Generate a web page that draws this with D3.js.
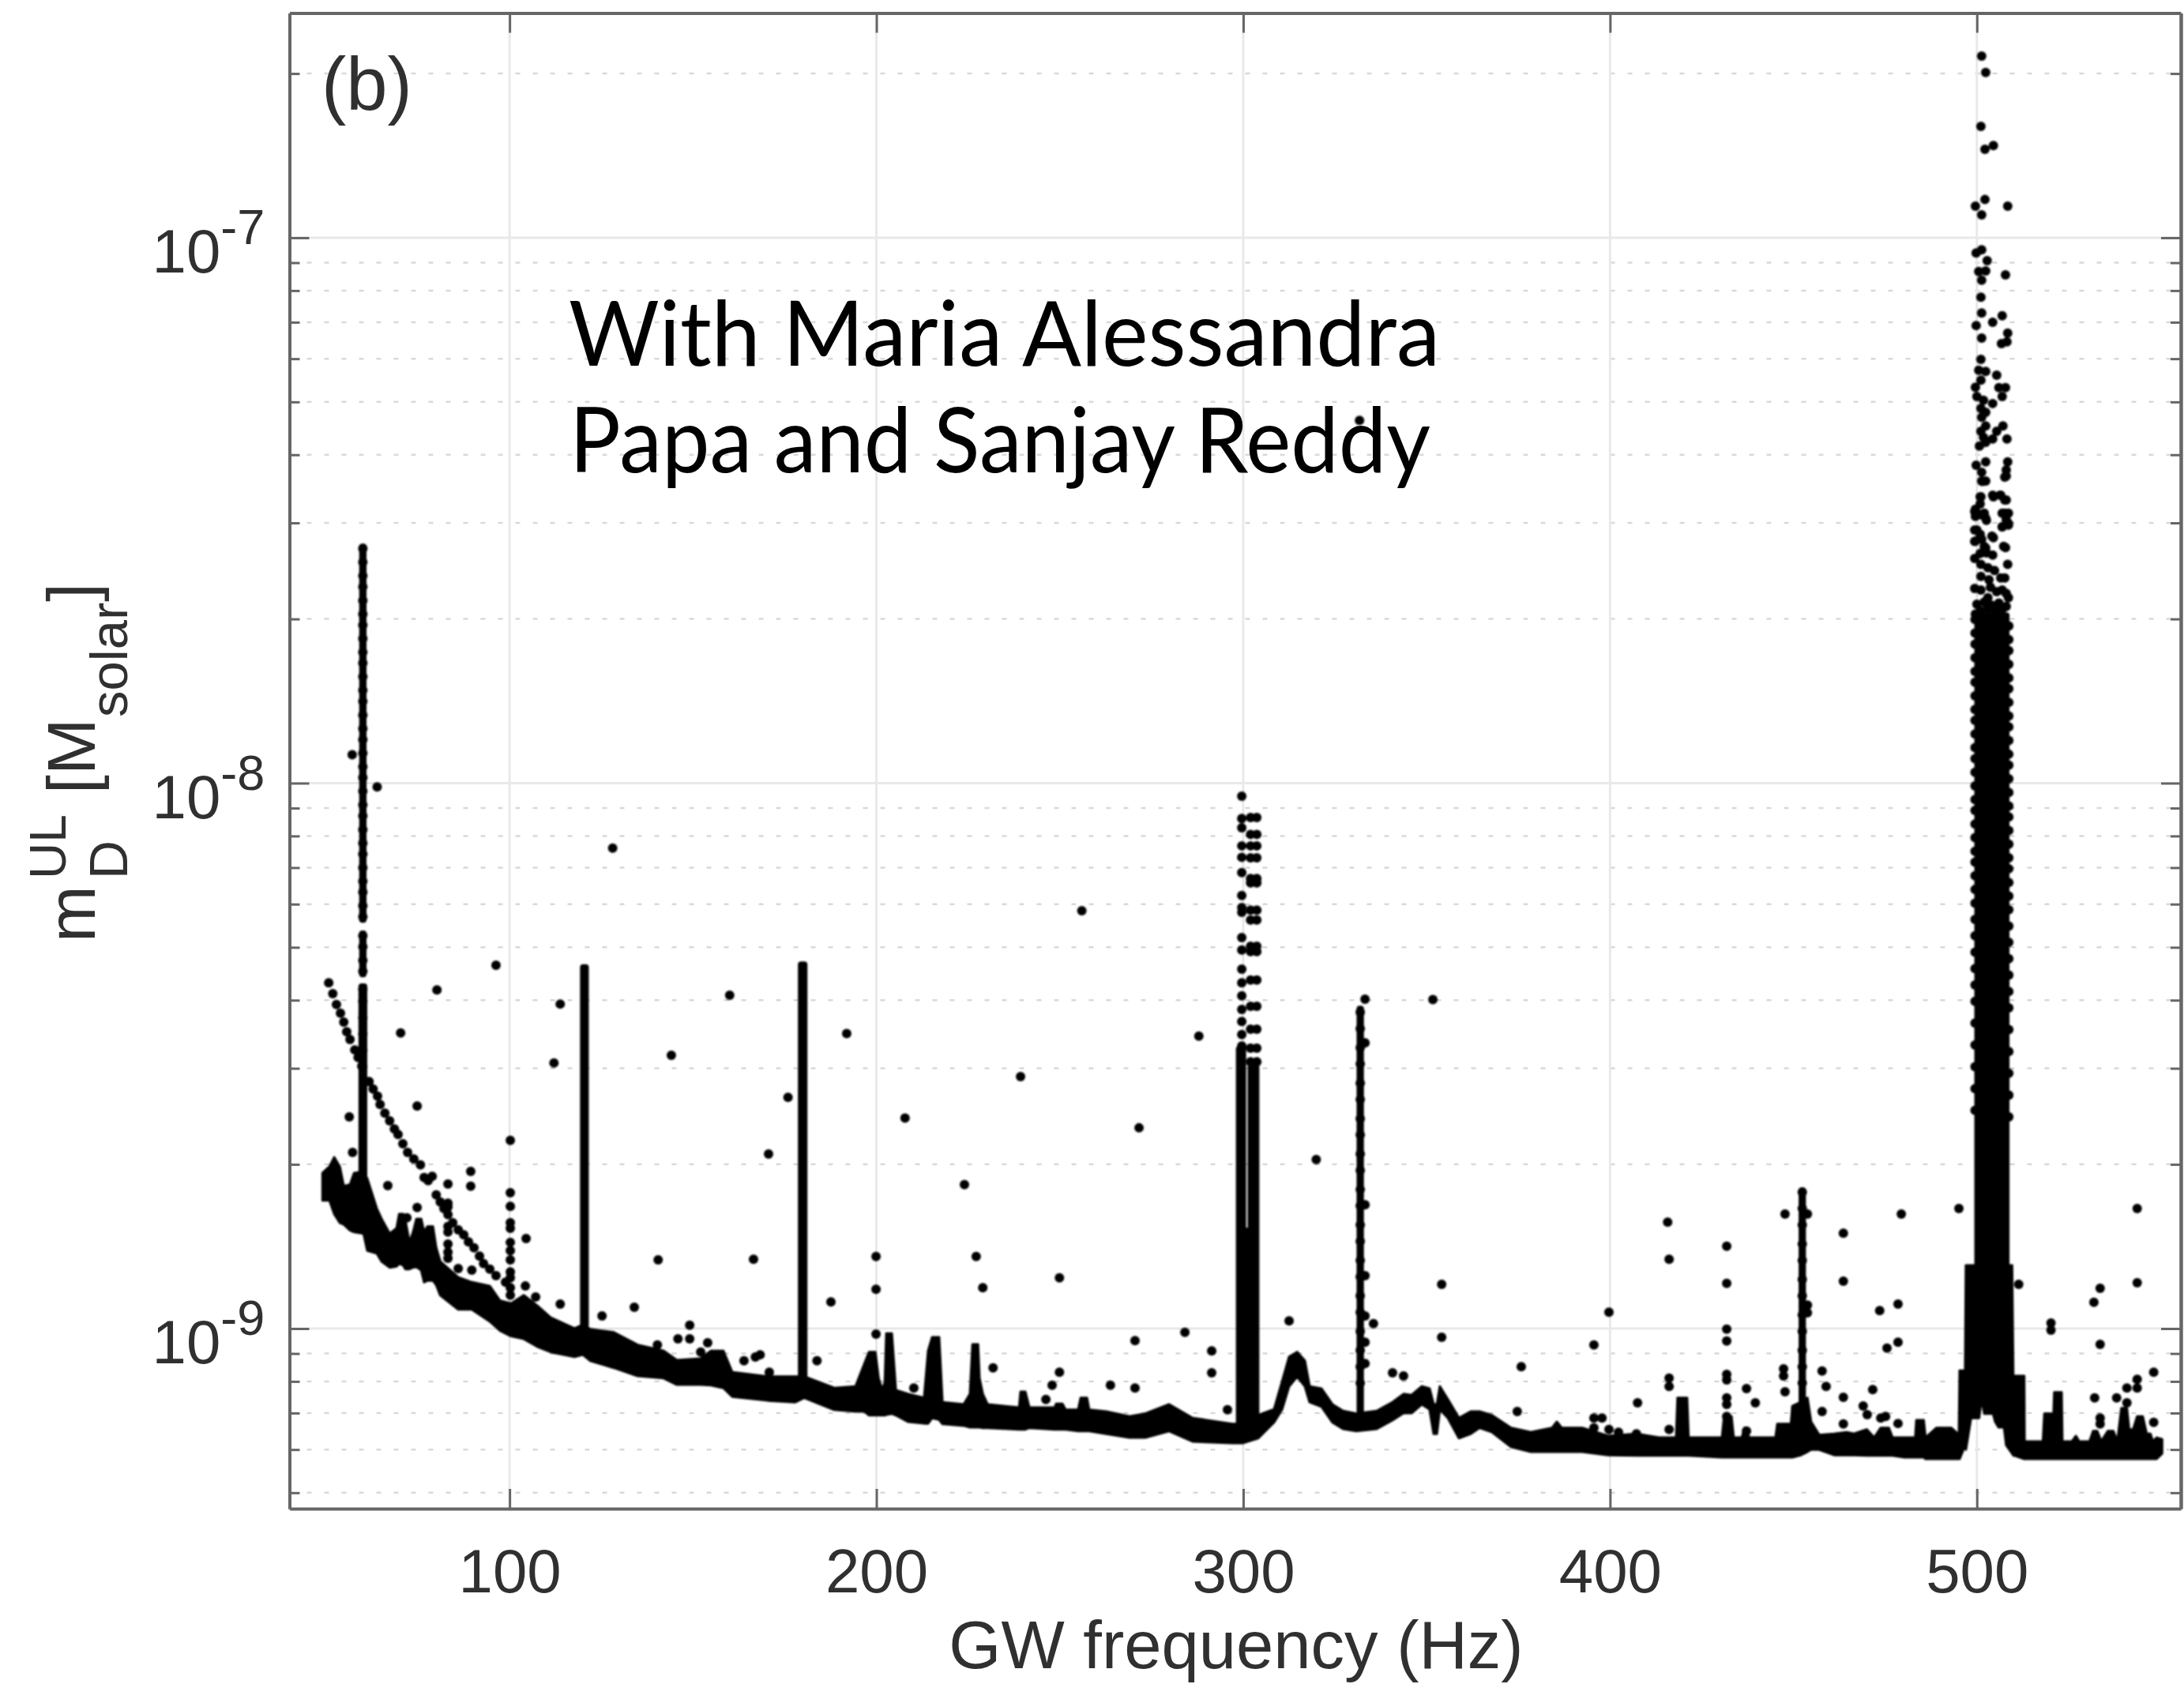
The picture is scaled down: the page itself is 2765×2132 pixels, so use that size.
<!DOCTYPE html>
<html>
<head>
<meta charset="utf-8">
<script src="https://cdn.jsdelivr.net/npm/d3@7"></script>
<style>
  body { margin: 0; background: #fff; }
  svg { display: block; }
  text { font-family: "Liberation Sans", Arial, sans-serif; fill: #303030; }
</style>
</head>
<body>
<div id="chart"></div>
<script>
// all masses are stored as log10(mass in solar masses)
const xTicks = [100, 200, 300, 400, 500];
const yMajor = [-7, -8, -9];
const yMinor = [2e-7, 9e-8, 8e-8, 7e-8, 6e-8, 5e-8, 4e-8, 3e-8, 2e-8,
  9e-9, 8e-9, 7e-9, 6e-9, 5e-9, 4e-9, 3e-9, 2e-9,
  9e-10, 8e-10, 7e-10, 6e-10, 5e-10];

// the thick lower envelope: frequency, top edge, bottom edge
const bandFreq = [49, 50.9, 52.2, 53.7, 54.8, 56.5, 57.6, 60.2, 61.2, 63.8, 65.1, 67.3, 69.2, 69.9, 71, 71.6, 72.7, 73.7, 74.6, 75.9, 76.7, 77.6, 79.1, 80, 81.1, 86, 89.7, 94.6, 97.4, 100.4, 103.9, 107.5, 111.2, 117.7, 120, 122, 128.4, 134.9, 142, 145.6, 152.1, 154.9, 158.3, 160.7, 170.4, 177.9, 180.3, 188.5, 194.3,
  196.7, 198, 199.7, 200.6, 201.6, 202.3, 202.7, 204.2, 205.3, 208.7, 213, 214.1, 215.2, 217.1, 218, 223.8, 225.5, 226.2, 227.7, 228.1, 229, 230.3, 238.9, 239.3, 240.6, 241.7, 248.6, 249, 250.7, 251.6, 255, 255.7, 257.4, 258, 262.6, 269, 273.3, 279.8, 286.2, 297,
  299.8, 304.1, 308.4, 310.6, 312.5, 314.7, 316.8, 318.1, 321.3, 324.3, 327.2, 330.8, 336.4, 340.7, 343.7, 345.9, 348.7, 350.8, 351.9, 352.8, 353.6, 355.8, 358.8, 362, 364.4, 367.8, 373, 378.4, 384.2, 385.5, 386.8, 392.4, 399.5, 407.2, 413.3,
  418, 418.4, 421, 421.4, 430.5, 431.1, 433.1, 433.7, 435.9, 436.7, 438, 445.1, 445.6, 449.3, 449.7, 452, 453.8, 454.8, 457, 461.1, 464.5, 466.5, 470, 472, 473.8, 476, 477, 480.2, 483.2, 483.5, 485.5, 486, 489, 493, 495.1, 495.3, 496.8,
  497, 498.4, 500.6, 501.3, 502, 504.4, 505, 505.9, 507.4, 508, 509.6, 510, 510.3, 512.9, 513, 518, 518.4, 520.9, 521.1, 523.1, 523.3, 525.9, 527, 527.9, 530.7, 531.7, 532.8, 533.9, 535.7, 537.2, 538.3, 539.4, 540.9, 541.5, 542.6, 543.7, 545.2, 546.3, 547.3, 548, 549, 550.5];
const bandTop = [-8.715, -8.703, -8.686, -8.703, -8.739, -8.736, -8.715, -8.712, -8.725, -8.78, -8.799, -8.826, -8.816, -8.79, -8.79, -8.802, -8.842, -8.823, -8.799, -8.799, -8.823, -8.813, -8.813, -8.852, -8.877, -8.906, -8.915, -8.922, -8.949, -8.954, -8.939, -8.958, -8.98, -9, -8.993, -9.001, -9.007, -9.03, -9.041, -9.058, -9.055, -9.041, -9.041, -9.08, -9.088, -9.088, -9.088, -9.109, -9.106,
  -9.065, -9.043, -9.043, -9.091, -9.113, -9.098, -9.009, -9.009, -9.113, -9.12, -9.127, -9.041, -9.016, -9.016, -9.135, -9.139, -9.12, -9.029, -9.029, -9.091, -9.12, -9.139, -9.145, -9.116, -9.116, -9.145, -9.145, -9.138, -9.138, -9.149, -9.149, -9.127, -9.127, -9.149, -9.152, -9.161, -9.156, -9.139, -9.164, -9.175,
  -9.175, -9.159, -9.148, -9.097, -9.052, -9.043, -9.059, -9.106, -9.11, -9.139, -9.151, -9.156, -9.151, -9.135, -9.12, -9.122, -9.106, -9.11, -9.139, -9.139, -9.106, -9.13, -9.164, -9.152, -9.152, -9.159, -9.182, -9.19, -9.182, -9.171, -9.182, -9.182, -9.197, -9.193, -9.2,
  -9.2, -9.127, -9.127, -9.2, -9.2, -9.161, -9.161, -9.2, -9.2, -9.182, -9.2, -9.2, -9.175, -9.175, -9.142, -9.135, -9.127, -9.171, -9.195, -9.193, -9.19, -9.193, -9.185, -9.2, -9.182, -9.182, -9.2, -9.2, -9.2, -9.168, -9.168, -9.2, -9.182, -9.182, -9.195, -9.077, -9.077,
  -8.884, -8.884, -8.884, -8.884, -8.884, -8.884, -8.884, -8.884, -8.884, -8.884, -8.884, -9.145, -9.087, -9.087, -9.207, -9.207, -9.156, -9.156, -9.117, -9.117, -9.207, -9.207, -9.197, -9.207, -9.207, -9.188, -9.188, -9.207, -9.188, -9.188, -9.207, -9.146, -9.146, -9.185, -9.185, -9.161, -9.161, -9.193, -9.193, -9.207, -9.2, -9.203];
const bandBottom = [-8.765, -8.765, -8.79, -8.806, -8.809, -8.82, -8.823, -8.826, -8.857, -8.862, -8.877, -8.888, -8.886, -8.881, -8.884, -8.891, -8.891, -8.888, -8.887, -8.893, -8.915, -8.912, -8.912, -8.92, -8.939, -8.965, -8.965, -8.987, -9.004, -9.014, -9.019, -9.033, -9.043, -9.052, -9.048, -9.059, -9.072, -9.087, -9.091, -9.103, -9.103, -9.104, -9.109, -9.125, -9.132, -9.135, -9.127, -9.149, -9.152,
  -9.152, -9.159, -9.159, -9.159, -9.159, -9.159, -9.158, -9.156, -9.159, -9.171, -9.174, -9.174, -9.164, -9.167, -9.175, -9.178, -9.181, -9.181, -9.181, -9.181, -9.182, -9.182, -9.185, -9.185, -9.185, -9.182, -9.185, -9.185, -9.185, -9.185, -9.188, -9.188, -9.188, -9.188, -9.193, -9.2, -9.2, -9.188, -9.207, -9.21,
  -9.21, -9.201, -9.172, -9.148, -9.106, -9.088, -9.106, -9.135, -9.143, -9.172, -9.184, -9.188, -9.184, -9.168, -9.155, -9.155, -9.139, -9.148, -9.193, -9.193, -9.148, -9.164, -9.201, -9.193, -9.182, -9.19, -9.217, -9.226, -9.226, -9.226, -9.226, -9.226, -9.232, -9.233, -9.233,
  -9.233, -9.233, -9.233, -9.233, -9.236, -9.236, -9.236, -9.236, -9.236, -9.236, -9.236, -9.236, -9.236, -9.236, -9.236, -9.232, -9.226, -9.222, -9.222, -9.232, -9.232, -9.232, -9.233, -9.233, -9.233, -9.233, -9.233, -9.236, -9.236, -9.236, -9.236, -9.239, -9.239, -9.239, -9.239, -9.239, -9.214,
  -9.222, -9.164, -9.164, -9.127, -9.156, -9.156, -9.171, -9.181, -9.181, -9.214, -9.229, -9.233, -9.233, -9.239, -9.239, -9.239, -9.239, -9.239, -9.239, -9.239, -9.239, -9.239, -9.239, -9.239, -9.239, -9.239, -9.239, -9.239, -9.239, -9.239, -9.239, -9.239, -9.239, -9.239, -9.239, -9.239, -9.239, -9.239, -9.239, -9.239, -9.239, -9.229];

// solid vertical lines: centre, width in Hz, top, bottom
const spikeFreq = [60, 60, 60, 120.4, 179.9, 299.4, 302.8, 301.1, 331.9, 452.4, 504.1];
const spikeWidth = [2, 2, 2.4, 2.4, 2.6, 2.8, 3.2, 2.2, 2, 2, 9.6];
const spikeTop = [-7.561, -8.27, -8.367, -8.332, -8.327, -8.482, -8.515, -8.815, -8.408, -8.741, -7.687];
const spikeBottom = [-8.256, -8.356, -8.8, -9, -9.1, -9.19, -9.19, -9.19, -9.16, -9.2, -8.9];

// curved line of dots falling from 50 Hz to 100 Hz
const diagonalDots = [[50.7,-8.366],[51.8,-8.386],[52.8,-8.406],[53.9,-8.422],[54.8,-8.438],[55.6,-8.456],[56.5,-8.47],[57.8,-8.489],[58.7,-8.503],[59.7,-8.519],[61.7,-8.547],[62.8,-8.561],[64,-8.574],[64.7,-8.589],[66,-8.605],[67.3,-8.619],[68.6,-8.634],[69.6,-8.644],[70.9,-8.661],[72.2,-8.677],[73.9,-8.689],[75.7,-8.7],[76.7,-8.723],[77.8,-8.729],[78.9,-8.721],[80,-8.755],[81.1,-8.768],[82.1,-8.78],[83.2,-8.791],[84.5,-8.806],[86,-8.819],[87.5,-8.828],[88.8,-8.841],[90.3,-8.852],[91.8,-8.867],[92.9,-8.881],[94.6,-8.891],[96.3,-8.903],[98.9,-8.915]];

const column100 = [-8.655, -8.751, -8.776, -8.806, -8.816, -8.842, -8.857, -8.874, -8.896, -8.907, -8.925, -8.939];
const column83 = [-8.735, -8.77, -8.777, -8.813, -8.823, -8.845, -8.86, -8.871];

// beads along the narrow columns
const column60 = [-7.57, -7.595, -7.62, -7.64, -7.665, -7.69, -7.71, -7.735, -7.76, -7.78, -7.805, -7.83, -7.85, -7.875, -7.9, -7.92, -7.945, -7.97, -7.99, -8.015, -8.04, -8.06, -8.085, -8.11, -8.13, -8.155, -8.18, -8.2, -8.225, -8.245, -8.28, -8.3, -8.325, -8.345, -8.378, -8.4, -8.43, -8.46, -8.49, -8.52];
const column332 = [-8.42, -8.45, -8.485, -8.515, -8.55, -8.58, -8.615, -8.645, -8.68, -8.71, -8.745, -8.775, -8.81, -8.84, -8.875, -8.905, -8.94, -8.97, -9.005, -9.04, -9.07, -9.1];
const column452 = [-8.75, -8.78, -8.81, -8.845, -8.875, -8.91, -8.94, -8.975, -9.005, -9.04, -9.07, -9.1];

// the two columns above the solid part around 300 Hz
const column300Left = [-8.024, -8.065, -8.082, -8.115, -8.136, -8.164, -8.206, -8.228, -8.237, -8.283, -8.306, -8.341, -8.366, -8.39, -8.415, -8.437, -8.461, -8.482];
const column300Right = [-8.063, -8.094, -8.115, -8.137, -8.175, -8.183, -8.233, -8.251, -8.299, -8.309, -8.361, -8.409, -8.451, -8.486, -8.511];

const column333 = [-8.396, -8.476, -8.773, -8.903, -8.977, -9.025, -9.064];
const column453 = [-8.79, -8.957, -8.971];

// the cloud on top of the 500 Hz peak
const peak500Dots = [[501.3,-6.667],[502.4,-6.697],[501.1,-6.796],[502.2,-6.838],[504.5,-6.831],[499.6,-6.942],[502.2,-6.93],[501.3,-6.958],[508.4,-6.942],[499.8,-7.028],[501.3,-7.022],[502.8,-7.042],[502.4,-7.061],[500.5,-7.062],[507.8,-7.068],[501.3,-7.078],[501.1,-7.109],[501.3,-7.138],[506.9,-7.143],[504.3,-7.155],[499.8,-7.161],[508.4,-7.175],[501.3,-7.184],[506.7,-7.194],[508.2,-7.191],[501.1,-7.223],[502.4,-7.245],[500.5,-7.243],[505.4,-7.252],[501.1,-7.261],[499.6,-7.274],[506,-7.275],[507.8,-7.275],[506.9,-7.291],[500,-7.291],[501.8,-7.298],[504.3,-7.304],[501.1,-7.313],[502.4,-7.32],[501.3,-7.329],[502.4,-7.345],[501.1,-7.355],[507.1,-7.345],[505.4,-7.355],[508.2,-7.369],[504.3,-7.369],[501.8,-7.366],[500.7,-7.382],[502.4,-7.375],[502.4,-7.411],[499.8,-7.417],[508.4,-7.411],[508,-7.426],[508,-7.437],[501.3,-7.43],[501.3,-7.446],[502.4,-7.446],[501.1,-7.475],[504.5,-7.475],[506.5,-7.472],[508,-7.481],[499.6,-7.498],[501.1,-7.508],[502.4,-7.514],[499.6,-7.511],[506.9,-7.505],[508.6,-7.505],[508,-7.517],[506.9,-7.53],[508.6,-7.527],[500,-7.536],[501.3,-7.553],[499.6,-7.556],[504.5,-7.55],[507.8,-7.568],[502.4,-7.569],
  [501.5,-7.447],[507.6,-7.439],[500.9,-7.475],[504.3,-7.472],[506.3,-7.472],[507.6,-7.481],[500.9,-7.488],[499.4,-7.502],[502,-7.505],[502.6,-7.518],[507.6,-7.505],[506.9,-7.53],[508.6,-7.524],[499.4,-7.536],[500.9,-7.544],[504.1,-7.547],[499.4,-7.557],[502,-7.566],[507.3,-7.566],[499.4,-7.588],[500.9,-7.579],[502.6,-7.578],[504.3,-7.582],[501.1,-7.599],[503,-7.605],[504.8,-7.61],[508.4,-7.599],[507.6,-7.624],[506.5,-7.624],[501.1,-7.621],[503.3,-7.627],[499.4,-7.643],[501.1,-7.646],[503.7,-7.641],[505.4,-7.649],[508,-7.652],[506.9,-7.646],[503,-7.66],[508.6,-7.66],
  [500,-7.672],[502,-7.668],[504,-7.674],[506,-7.67],[508,-7.676],[501,-7.684],[503,-7.68],[505,-7.684],[507,-7.68],[499.6,-7.69]];
// scalloped sides of the solid part of that peak
const peak500Edge = [-7.7, -7.725, -7.745, -7.77, -7.795, -7.815, -7.84, -7.865, -7.885, -7.91, -7.935, -7.955, -7.98, -8.005, -8.03, -8.05, -8.075, -8.1, -8.125, -8.145, -8.17, -8.195, -8.22, -8.25, -8.28, -8.31, -8.34, -8.37, -8.4, -8.44, -8.48, -8.52, -8.56, -8.6];

// isolated points
const outlierDots = [[57.1,-7.948],[63.9,-8.007],[128.1,-8.119],[256,-8.234],[351.7,-8.397],[331.7,-7.335],[80.2,-8.379],[96.3,-8.334],[70.3,-8.458],[113.8,-8.405],[112.1,-8.513],[160,-8.389],[144.1,-8.499],[170.6,-8.68],[74.8,-8.592],[56.3,-8.612],[57.2,-8.677],[66.8,-8.738],[89.4,-8.712],[89.4,-8.739],[74.8,-8.778],[104.5,-8.835],[140.5,-8.874],[166.5,-8.873],[134,-8.961],[125.2,-8.977],[113.8,-8.955],[104.3,-8.922],[107.1,-8.942],[86,-8.89],[89.7,-8.893],[72,-8.797],[149.1,-8.994],[145.9,-9.019],[149.1,-9.019],[140.3,-9.03],[154,-9.026],[152.1,-9.043],[163.9,-9.059],[167,-9.052],[168.3,-9.048],[170.8,-9.08],[183.8,-9.059],[187.6,-8.951],[199.9,-8.868],[199.9,-8.928],[199.9,-9.01],[224,-8.736],[227.2,-8.868],[229,-8.925],[231.8,-9.072],[249.9,-8.907],[249.9,-9.08],[247.9,-9.104],[246.2,-9.13],[210.2,-9.109],[263.8,-9.104],[270.5,-9.022],[270.5,-9.109],[284.1,-9.007],[291.4,-9.041],[291.4,-9.081],[295.7,-9.149],[191.9,-8.459],[239.3,-8.538],[271.6,-8.632],[287.9,-8.464],[207.8,-8.614],[175.9,-8.576],[312.5,-8.986],[319.9,-8.69],[335.5,-8.991],[354.1,-8.919],[354.1,-9.016],[340.7,-9.081],[343.7,-9.087],
  [375.8,-9.07],[374.7,-9.152],[395.6,-9.03],[399.7,-8.97],[395.6,-9.164],[397.8,-9.164],[399.7,-9.185],[395.6,-9.182],[402.3,-9.19],[407.5,-9.136],[407.2,-9.193],[415.7,-8.805],[416.1,-8.873],[416.1,-9.091],[416.1,-9.106],[416.1,-9.185],[431.8,-8.849],[431.8,-8.917],[431.8,-9.001],[431.8,-9.023],[431.8,-9.084],[431.8,-9.094],[431.8,-9.127],[431.8,-9.139],[431.8,-9.161],[437.2,-9.11],[439.6,-9.136],[437.2,-9.188],[447.7,-8.79],[447.3,-9.074],[447.3,-9.087],[447.7,-9.116],[457.8,-9.078],[458.9,-9.106],[457.8,-9.152],[463.6,-8.825],[463.6,-8.913],[463.6,-9.126],[463.6,-9.175],[471.6,-9.112],[469,-9.142],[470.1,-9.158],[473.8,-9.164],[475.1,-9.161],[473.5,-8.967],[478.5,-8.955],[475.5,-9.036],[478.5,-9.025],[479.4,-8.79],[478.5,-9.174],[495.1,-8.78],[511.4,-8.919],[520.2,-8.99],[520.2,-9.003],[531.9,-8.952],[533.6,-8.926],[533.6,-9.029],[543.7,-8.78],[543.7,-8.916],[548.2,-9.08],[543.7,-9.093],[543.7,-9.109],[540.9,-9.109],[538.1,-9.127],[540.9,-9.136],[532.1,-9.127],[533.6,-9.164],[533.6,-9.175],[548.2,-9.172]];

const width = 2765, height = 2132,
    margin = ({ top: 16.5, right: 4, bottom: 222, left: 366.5 });

let svg = d3.select("#chart")
    .append("svg")
    .attr("width", width)
    .attr("height", height)
    .attr("viewBox", [0, 0, width, height]);

let x = d3.scaleLinear()
    .domain([40, 555.6])
    .range([margin.left, width - margin.right]);

let y = d3.scaleLog()
    .domain([4.675e-10, 2.582e-7])
    .range([height - margin.bottom, margin.top]);

const my = e => y(Math.pow(10, e)); // stored log10 -> pixel

// grid first
svg.append("g").selectAll("line").data(yMinor).join("line")
    .attr("x1", x.range()[0]).attr("x2", x.range()[1])
    .attr("y1", d => y(d)).attr("y2", d => y(d))
    .attr("stroke", "#d9d9d9").attr("stroke-width", 2.5)
    .attr("stroke-dasharray", "6 16");

svg.append("g").selectAll("line").data(yMajor).join("line")
    .attr("x1", x.range()[0]).attr("x2", x.range()[1])
    .attr("y1", d => my(d)).attr("y2", d => my(d))
    .attr("stroke", "#e9e9e9").attr("stroke-width", 3);

svg.append("g").selectAll("line").data(xTicks).join("line")
    .attr("x1", d => x(d)).attr("x2", d => x(d))
    .attr("y1", y.range()[0]).attr("y2", y.range()[1])
    .attr("stroke", "#e9e9e9").attr("stroke-width", 3);

// marks
let marks = svg.append("g").attr("fill", "#000").style("filter", "blur(0.8px)");

marks.append("path")
    .datum(bandFreq.map((f, i) => ({ f: f, top: bandTop[i], bottom: bandBottom[i] })))
    .attr("stroke", "#000")
    .attr("stroke-width", 3)
    .attr("stroke-linejoin", "round")
    .attr("d", d3.area()
        .x(d => x(d.f))
        .y0(d => my(d.bottom))
        .y1(d => my(d.top)));

marks.selectAll(".spike")
    .data(spikeFreq.map((f, i) => ({ f: f, w: spikeWidth[i], top: spikeTop[i], bottom: spikeBottom[i] })))
    .join("rect")
    .attr("class", "spike")
    .attr("x", d => x(d.f - d.w / 2))
    .attr("width", d => x(d.f + d.w / 2) - x(d.f - d.w / 2))
    .attr("y", d => my(d.top))
    .attr("height", d => my(d.bottom) - my(d.top))
    .attr("rx", 4);

const allDots = diagonalDots.concat(
    outlierDots,
    peak500Dots,
    peak500Edge.map(e => [499.5, e]),
    peak500Edge.map(e => [508.7, e - 0.012]),
    column60.map(e => [60, e]),
    column332.map(e => [331.9, e]),
    column452.map(e => [452.4, e]),
    column100.map(e => [100.2, e]),
    column83.map(e => [83.2, e]),
    column300Left.map(e => [299.6, e]),
    column300Right.map(e => [302, e]),
    column300Right.map(e => [303.7, e]),
    column333.map(e => [333.2, e]),
    column453.map(e => [453.8, e]));

marks.selectAll("circle")
    .data(allDots)
    .join("circle")
    .attr("cx", d => x(d[0]))
    .attr("cy", d => my(d[1]))
    .attr("r", 6);

// axes
function styleAxis(g) {
    g.selectAll(".domain").attr("stroke", "#666").attr("stroke-width", 4);
    g.selectAll(".tick line").attr("stroke", "#666").attr("stroke-width", 3);
}

let xBottom = svg.append("g")
    .attr("transform", `translate(0,${height - margin.bottom})`)
    .call(d3.axisBottom(x).tickValues(xTicks).tickSizeInner(-25).tickSizeOuter(0).tickFormat(d3.format("d")))
    .call(styleAxis);
xBottom.selectAll("text")
    .attr("y", 106).attr("dy", null)
    .attr("font-size", 78)
    .attr("font-family", "Liberation Sans")
    .style("fill", "#303030");

svg.append("g")
    .attr("transform", `translate(0,${margin.top})`)
    .call(d3.axisTop(x).tickValues(xTicks).tickSizeInner(-25).tickSizeOuter(0).tickFormat(""))
    .call(styleAxis);

let yLeft = svg.append("g")
    .attr("transform", `translate(${margin.left},0)`)
    .call(d3.axisLeft(y).tickValues(yMajor.map(e => Math.pow(10, e))).tickSizeInner(-25).tickSizeOuter(0).tickFormat(""))
    .call(styleAxis);

yLeft.selectAll(".tick text").each(function (d, i) {
    let t = d3.select(this)
        .attr("x", -174).attr("y", 44).attr("dy", null)
        .attr("text-anchor", "start")
        .attr("font-family", "Liberation Sans")
        .attr("font-size", 78);
    t.append("tspan").text("10");
    t.append("tspan").attr("dy", -36).attr("font-size", 63).text(yMajor[i]);
});

svg.append("g")
    .attr("transform", `translate(${margin.left},0)`)
    .call(d3.axisLeft(y).tickValues(yMinor).tickSizeInner(-13).tickSizeOuter(0).tickFormat(""))
    .call(styleAxis);

svg.append("g")
    .attr("transform", `translate(${width - margin.right},0)`)
    .call(d3.axisRight(y).tickValues(yMajor.map(e => Math.pow(10, e))).tickSizeInner(-25).tickSizeOuter(0).tickFormat(""))
    .call(styleAxis);

svg.append("g")
    .attr("transform", `translate(${width - margin.right},0)`)
    .call(d3.axisRight(y).tickValues(yMinor).tickSizeInner(-13).tickSizeOuter(0).tickFormat(""))
    .call(styleAxis);

// labels
svg.append("text")
    .attr("x", 1565).attr("y", 2112)
    .attr("text-anchor", "middle")
    .attr("font-size", 85)
    .text("GW frequency (Hz)");

[["m", 120, 1193, 86], ["D", 161, 1113, 68], ["UL", 83, 1113, 64],
 ["[M", 120, 1005, 86], ["solar", 161, 908, 67], ["]", 120, 762, 86]].forEach(p => {
    svg.append("text")
        .attr("transform", `translate(${p[1]},${p[2]}) rotate(-90)`)
        .attr("font-size", p[3])
        .text(p[0]);
});

svg.append("text")
    .attr("x", 407).attr("y", 139)
    .attr("font-size", 94)
    .text("(b)");

svg.append("text")
    .attr("x", 720).attr("y", 463)
    .attr("font-size", 114)
    .attr("textLength", 1103)
    .attr("lengthAdjust", "spacingAndGlyphs")
    .style("font-family", "Lato")
    .style("fill", "#000")
    .text("With Maria Alessandra");

svg.append("text")
    .attr("x", 721).attr("y", 598)
    .attr("font-size", 114)
    .attr("textLength", 1090)
    .attr("lengthAdjust", "spacingAndGlyphs")
    .style("font-family", "Lato")
    .style("fill", "#000")
    .text("Papa and Sanjay Reddy");
</script>
</body>
</html>
